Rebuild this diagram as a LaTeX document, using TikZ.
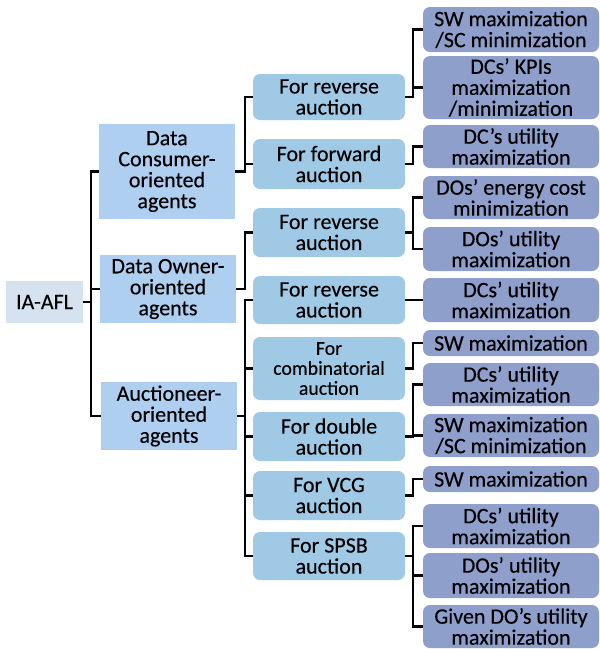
\documentclass[tikz,border=0pt]{standalone}
\usepackage{fontspec}
\setmainfont{Carlito}[FakeBold=0.3]
\usetikzlibrary{calc}
\definecolor{rootc}{HTML}{D5E3F1}
\definecolor{lvla}{HTML}{AECFF0}
\definecolor{lvlb}{HTML}{9FC9E5}
\definecolor{lvlc}{HTML}{8F9FCB}
\begin{document}
\begin{tikzpicture}[x=1pt,y=-1pt,
  box/.style={inner sep=0pt, align=center, font=\fontsize{22}{21}\selectfont, text=black},
  rootbox/.style={box, fill=rootc, minimum width=77pt, minimum height=42pt},
  onebox/.style={box, fill=lvla, minimum width=136pt},
  twobox/.style={box, fill=lvlb, rounded corners=7pt, minimum width=152pt},
  threebox/.style={box, fill=lvlc, rounded corners=7pt, minimum width=176pt},
  conn/.style={draw=black, line width=2.6pt}
]
\useasboundingbox (0,0) rectangle (600,649);
% root
\node[rootbox] (root) at (44.5,302) {IA-AFL};
% level 1
\node[onebox, minimum height=95pt] (dc) at (167,171.5) {Data\\Consumer-\\oriented\\agents};
\node[onebox, minimum height=68pt] (do) at (168,289) {Data Owner-\\oriented\\agents};
\node[onebox, minimum height=68pt] (auc) at (169,416) {Auctioneer-\\oriented\\agents};
% level 2
\node[twobox, minimum height=46pt] (ra) at (329,97) {For reverse\\auction};
\node[twobox, minimum height=50pt] (rb) at (329,164) {For forward\\auction};
\node[twobox, minimum height=49pt] (rc) at (329,232.5) {For reverse\\auction};
\node[twobox, minimum height=48pt] (rd) at (329,300) {For reverse\\auction};
\node[twobox, minimum height=63pt, font=\fontsize{19.8}{20}\selectfont] (re) at (329,368.5) {For\\combinatorial\\auction};
\node[twobox, minimum height=49pt] (rf) at (329,436.5) {For double\\auction};
\node[twobox, minimum height=49pt] (rg) at (329,495.5) {For VCG\\auction};
\node[twobox, minimum height=48pt] (rh) at (329,556) {For SPSB\\auction};
% level 3
\node[threebox, minimum height=45pt] (ta) at (511,29.5) {SW maximization\\/SC minimization};
\node[threebox, minimum height=63pt] (tb) at (511,87.5) {DCs’ KPIs\\maximization\\/minimization};
\node[threebox, minimum height=43pt] (tc) at (511,146.5) {DC’s utility\\maximization};
\node[threebox, minimum height=43pt] (td) at (511,197.5) {DOs’ energy cost\\minimization};
\node[threebox, minimum height=44pt] (te) at (511,249) {DOs’ utility\\maximization};
\node[threebox, minimum height=44pt] (tf) at (511,300) {DCs’ utility\\maximization};
\node[threebox, minimum height=26pt] (tg) at (511,343) {SW maximization};
\node[threebox, minimum height=43pt] (th) at (511,384.5) {DCs’ utility\\maximization};
\node[threebox, minimum height=43pt] (ti) at (511,435.5) {SW maximization\\/SC minimization};
\node[threebox, minimum height=26pt] (tj) at (511,479) {SW maximization};
\node[threebox, minimum height=44pt] (tk) at (511,526) {DCs’ utility\\maximization};
\node[threebox, minimum height=45pt] (tl) at (511,575.5) {DOs’ utility\\maximization};
\node[threebox, minimum height=43pt] (tm) at (511,626.5) {Given DO’s utility\\maximization};
% bus coordinates
\coordinate (b0) at (91,0);
\coordinate (b1) at (245,0);
\coordinate (b2) at (413,0);
% root connectors
\draw[conn] (root.east) -- (root.east -| b0) |- (dc.west);
\draw[conn] (root.east -| b0) |- (do.west);
\draw[conn] (root.east -| b0) |- (auc.west);
% level 1 connectors
\draw[conn] (dc.east) -- (dc.east -| b1) |- (ra.west);
\draw[conn] (dc.east -| b1) |- (rb.west);
\draw[conn] (do.east) -- (do.east -| b1) |- (rc.west);
\draw[conn] (auc.east) -- (auc.east -| b1) |- (rd.west);
\draw[conn] (auc.east -| b1) |- (re.west);
\draw[conn] (auc.east -| b1) |- (rf.west);
\draw[conn] (auc.east -| b1) |- (rg.west);
\draw[conn] (auc.east -| b1) |- (rh.west);
% level 2 connectors
\draw[conn] (ra.east) -- (ra.east -| b2) |- (ta.west);
\draw[conn] (ra.east -| b2) |- (tb.west);
\draw[conn] (rb.east) -- (rb.east -| b2) |- (tc.west);
\draw[conn] (rc.east) -- (rc.east -| b2) |- (td.west);
\draw[conn] (rc.east -| b2) |- (te.west);
\draw[conn] (rd.east) -- (tf.west);
\draw[conn] (re.east) -- (re.east -| b2) |- (tg.west);
\draw[conn] (rf.east) -- (rf.east -| b2) |- (th.west);
\draw[conn] (rf.east -| b2) |- (ti.west);
\draw[conn] (rg.east) -- (rg.east -| b2) |- (tj.west);
\draw[conn] (rh.east) -- (rh.east -| b2) |- (tk.west);
\draw[conn] (rh.east -| b2) |- (tl.west);
\draw[conn] (rh.east -| b2) |- (tm.west);
\end{tikzpicture}
\end{document}
